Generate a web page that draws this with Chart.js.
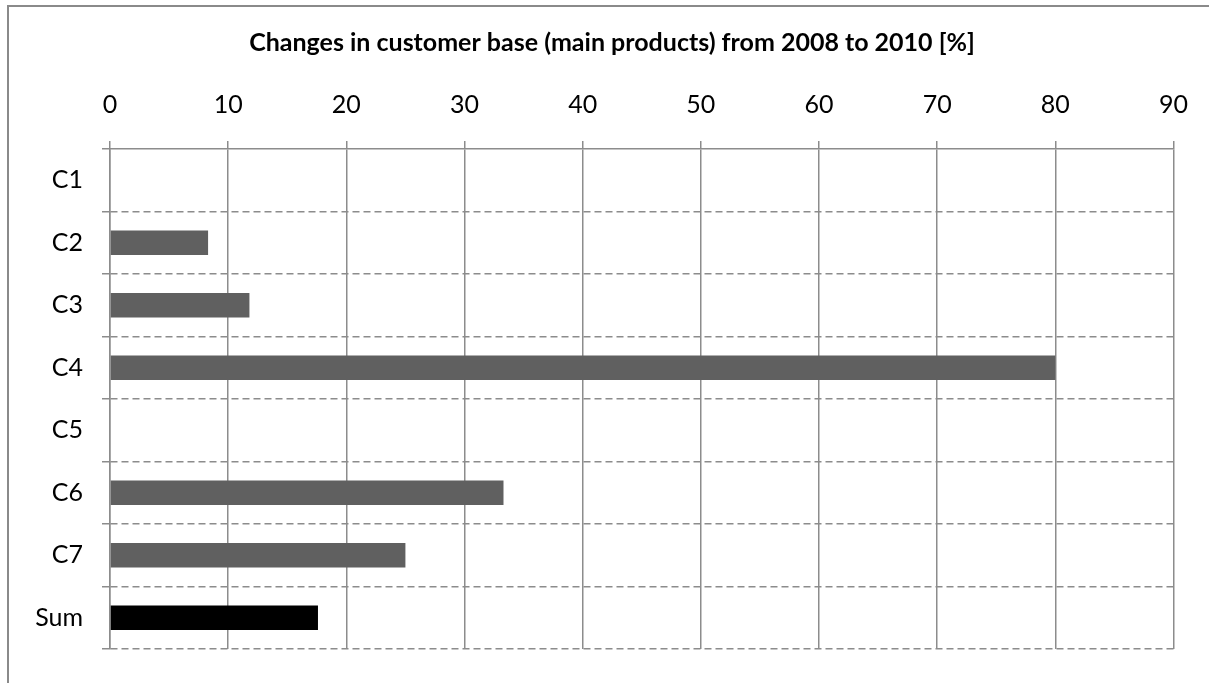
<!DOCTYPE html>
<html>
<head>
<meta charset="utf-8">
<script src="https://cdn.jsdelivr.net/npm/chart.js@4.4.1/dist/chart.umd.min.js"></script>
<style>
  html, body { margin: 0; padding: 0; background: #fff; }
  #wrap { position: relative; width: 1209px; height: 683px; }
</style>
</head>
<body>
<div id="wrap"><canvas id="chart" width="1209" height="683"></canvas></div>
<script>
const categories = ['C1', 'C2', 'C3', 'C4', 'C5', 'C6', 'C7', 'Sum'];
const changePct = [0, 8.3, 11.8, 80, 0, 33.3, 25, 17.6];
const barColors = ['#606060', '#606060', '#606060', '#606060', '#606060', '#606060', '#606060', '#000000'];
const titleText = 'Changes in customer base (main products) from 2008 to 2010 [%]';

const GRID = '#8c8c8c';
const FONT = 'Lato, "Open Sans", sans-serif';

// frame + title, drawn the way the spreadsheet export has them
const decorations = {
  id: 'decorations',
  beforeDraw(chart) {
    const { ctx } = chart;
    ctx.save();
    ctx.strokeStyle = '#8a8a8a';
    ctx.lineWidth = 2;
    ctx.beginPath();
    ctx.moveTo(8, 683);
    ctx.lineTo(8, 6);
    ctx.lineTo(1209, 6);
    ctx.stroke();

    ctx.fillStyle = '#000';
    ctx.font = 'bold 25px ' + FONT;
    ctx.textAlign = 'center';
    ctx.textBaseline = 'middle';
    ctx.fillText(titleText, 612, 43);
    ctx.restore();
  },
};

new Chart(document.getElementById('chart'), {
  type: 'bar',
  data: {
    labels: categories,
    datasets: [{
      data: changePct,
      backgroundColor: barColors,
      borderWidth: 0,
      categoryPercentage: 1,
      barPercentage: 0.39,
    }],
  },
  options: {
    indexAxis: 'y',
    responsive: false,
    animation: false,
    layout: { padding: { left: 0, top: 0, right: 34, bottom: 26 } },
    plugins: {
      legend: { display: false },
      title: { display: false },
      tooltip: { enabled: false },
    },
    scales: {
      x: {
        position: 'top',
        min: 0,
        max: 90,
        ticks: {
          stepSize: 10,
          color: '#000',
          padding: 21,
          font: { family: FONT, size: 25 },
        },
        grid: { color: GRID, lineWidth: 1.5, tickLength: 8, tickColor: GRID, tickWidth: 1.5 },
        border: { display: true, color: GRID, width: 1.5 },
        afterFit(scale) { scale.height = 149; },
      },
      y: {
        ticks: {
          color: '#000',
          padding: 19,
          font: { family: FONT, size: 25 },
        },
        grid: {
          // the top boundary is the solid x axis line, so skip the dashed one there
          color: (ctx) => (ctx.index === 0 ? 'rgba(0,0,0,0)' : GRID),
          lineWidth: 1.5,
          tickLength: 8,
          tickColor: GRID,
          tickWidth: 1.5,
          offset: true,
        },
        border: { display: true, color: GRID, width: 1.5, dash: [7, 4] },
        afterFit(scale) { scale.width = 110; },
      },
    },
  },
  plugins: [decorations],
});
</script>
</body>
</html>
